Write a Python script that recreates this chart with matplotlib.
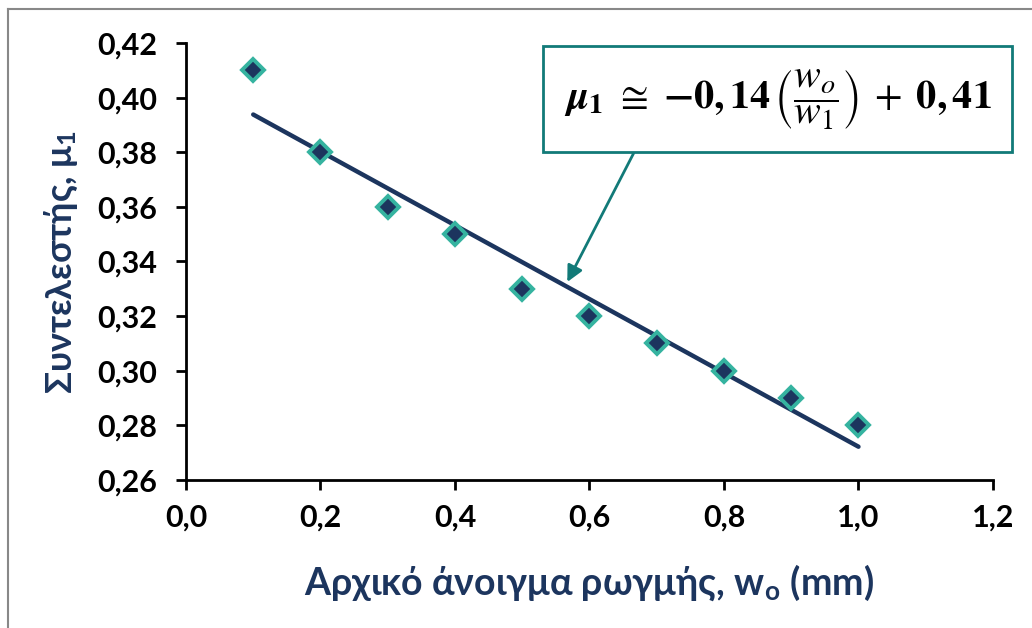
import numpy as np
import matplotlib
matplotlib.use("Agg")
import matplotlib.pyplot as plt
from matplotlib.ticker import FuncFormatter, MultipleLocator
from matplotlib.lines import Line2D

# data
w_ratio = [0.1, 0.2, 0.3, 0.4, 0.5, 0.6, 0.7, 0.8, 0.9, 1.0]
mu1 = [0.41, 0.38, 0.36, 0.35, 0.33, 0.32, 0.31, 0.30, 0.29, 0.28]

xlabel = "Αρχικό άνοιγμα ρωγμής, w$_\\mathregular{o}$ (mm)"
ylabel = "Συντελεστής, μ$_\\mathregular{1}$"
equation = (r"$\mathbfit{\mu}_\mathbf{1}\ \cong\ \mathbf{-0,14}\,"
            r"\left(\dfrac{w_o}{w_1}\right)\;+\;\mathbf{0,41}$")

plt.rcParams['font.family'] = ['Lato', 'DejaVu Sans']
plt.rcParams['mathtext.fontset'] = 'stix'

navy = '#1c355e'
teal_edge = '#35b3a0'
teal_box = '#127a78'

fig = plt.figure(figsize=(10.32, 6.28), dpi=100)
ax = fig.add_axes([0.1802, 0.2357, 0.782, 0.6958])

# linear trend line
k, b = np.polyfit(w_ratio, mu1, 1)
xt = np.array([min(w_ratio), max(w_ratio)])
ax.plot(xt, k * xt + b, color=navy, lw=3.2, solid_capstyle='round', zorder=2)

ax.plot(w_ratio, mu1, linestyle='none', marker='D', markersize=11.5,
        markerfacecolor=navy, markeredgecolor=teal_edge, markeredgewidth=2.8, zorder=3)

ax.set_xlim(0, 1.2)
ax.set_ylim(0.26, 0.42)
ax.xaxis.set_major_locator(MultipleLocator(0.2))
ax.yaxis.set_major_locator(MultipleLocator(0.02))
ax.xaxis.set_major_formatter(FuncFormatter(lambda v, p: f"{v:.1f}".replace('.', ',')))
ax.yaxis.set_major_formatter(FuncFormatter(lambda v, p: f"{v:.2f}".replace('.', ',')))

for s in ['top', 'right']:
    ax.spines[s].set_visible(False)
for s in ['left', 'bottom']:
    ax.spines[s].set_linewidth(2)
ax.tick_params(direction='out', length=7, width=2, labelsize=22, colors='black')
ax.tick_params(axis='y', pad=14)
ax.tick_params(axis='x', pad=10)
for lab in ax.get_xticklabels() + ax.get_yticklabels():
    lab.set_fontweight('bold')

ax.set_xlabel(xlabel, fontsize=27, fontweight='bold', color=navy, labelpad=22)
ax.set_ylabel(ylabel, fontsize=26, fontweight='bold', color=navy, labelpad=12)

# equation box with arrow
ax.annotate(equation, xy=(0.567, 0.3325), xycoords='data',
            xytext=(0.733, 0.871), textcoords='axes fraction',
            fontsize=29, color='black', ha='center', va='center',
            bbox=dict(boxstyle='square,pad=0.52', fc='white', ec=teal_box, lw=2),
            arrowprops=dict(arrowstyle='-|>', color=teal_box, lw=2, mutation_scale=24,
                            shrinkA=0, shrinkB=0, relpos=(0.19, 0.0)),
            annotation_clip=False)

# outer frame lines
fig.add_artist(Line2D([0.0078, 0.0078], [0, 0.986], color='#888888', lw=1.5))
fig.add_artist(Line2D([0.0078, 1.0], [0.986, 0.986], color='#888888', lw=1.5))

fig.savefig('out.png', dpi=100)
